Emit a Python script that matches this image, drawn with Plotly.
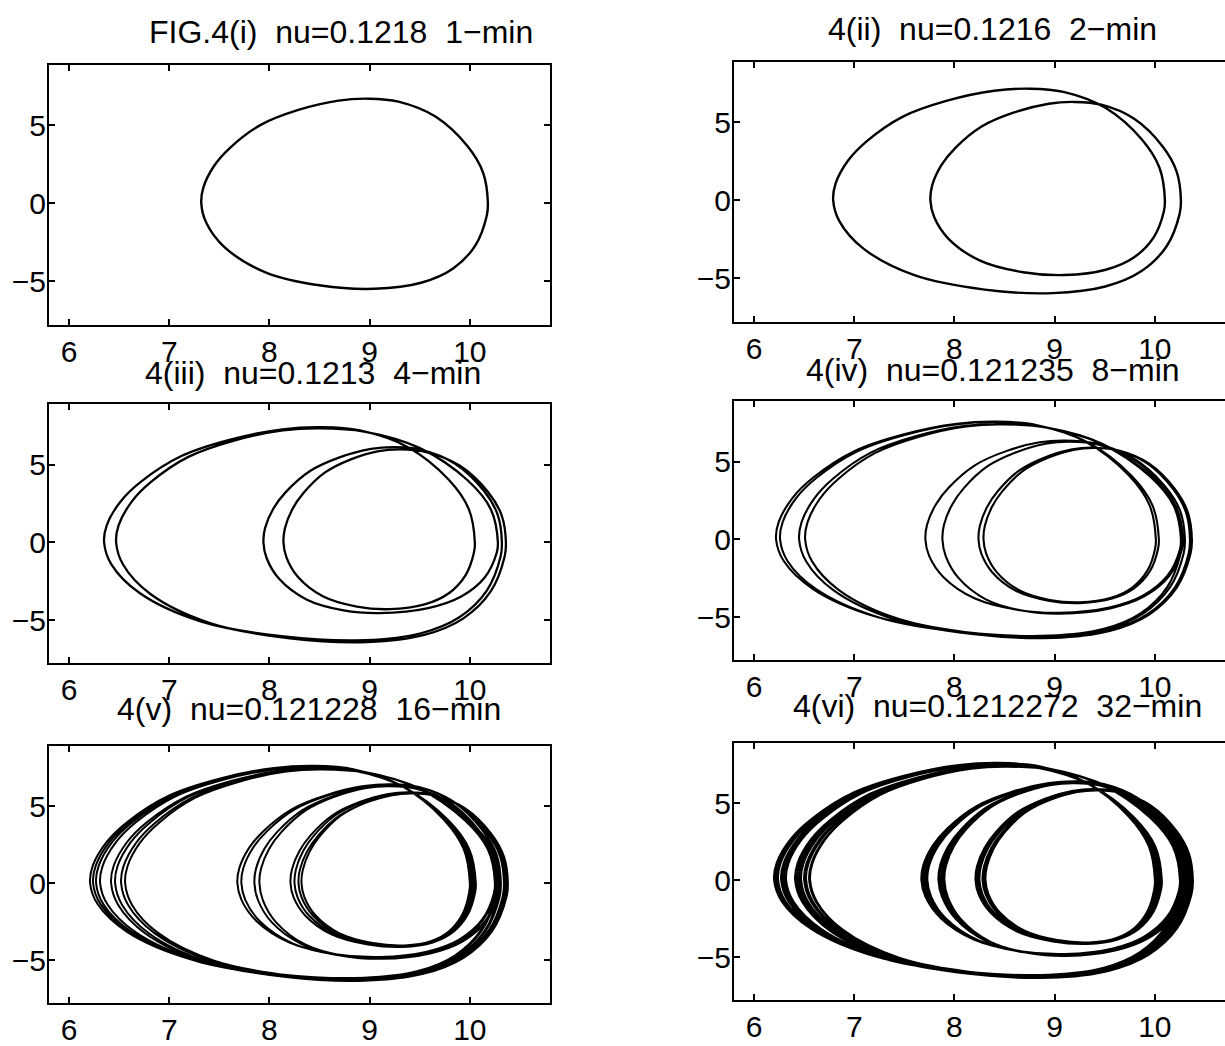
import plotly.graph_objects as go

# ---------------- data ----------------
# Each orbit is a chain of windings; every winding is described by the
# x where it crosses y=0 on the left, its top point, the x where it crosses
# y=0 on the right, and its bottom point.  The next winding starts at the
# next left crossing (the last one returns to the first).

i_left  = [7.32]
i_top_x = [8.99]
i_top_y = [6.72]
i_right = [10.18]
i_bot_x = [9.05]
i_bot_y = [-5.49]

ii_left  = [6.79, 7.76]
ii_top_x = [8.75, 9.20]
ii_top_y = [7.17, 6.32]
ii_right = [10.10, 10.26]
ii_bot_x = [9.10, 8.98]
ii_bot_y = [-4.80, -5.96]

iii_left  = [6.35, 8.14, 6.47, 7.94]
iii_top_x = [8.52, 9.30, 8.50, 9.25]
iii_top_y = [7.43, 6.00, 7.36, 6.15]
iii_right = [10.05, 10.36, 10.28, 10.32]
iii_bot_x = [9.20, 8.98, 9.10, 8.95]
iii_bot_y = [-4.30, -6.42, -4.55, -6.30]

iv_left  = [6.22, 8.29, 6.45, 7.71, 6.26, 8.24, 6.51, 7.88]
iv_top_x = [8.42, 9.40, 8.45, 9.10, 8.42, 9.38, 8.47, 9.15]
iv_top_y = [7.60, 5.90, 7.45, 6.38, 7.57, 5.92, 7.42, 6.30]
iv_right = [10.01, 10.37, 10.26, 10.30, 10.04, 10.35, 10.28, 10.27]
iv_bot_x = [9.25, 8.98, 9.05, 8.95, 9.25, 8.98, 9.05, 8.95]
iv_bot_y = [-4.05, -6.35, -4.72, -6.25, -4.10, -6.30, -4.78, -6.20]

v_left  = [6.21, 8.32, 6.42, 7.68, 6.27, 8.25, 6.52, 7.85,
           6.24, 8.29, 6.46, 7.72, 6.31, 8.21, 6.56, 7.90]
v_top_x = [8.45, 9.42, 8.50, 9.22, 8.44, 9.40, 8.51, 9.20,
           8.45, 9.43, 8.50, 9.23, 8.43, 9.40, 8.52, 9.20]
v_top_y = [7.62, 5.85, 7.45, 6.42, 7.55, 5.88, 7.40, 6.33,
           7.60, 5.82, 7.44, 6.40, 7.52, 5.90, 7.38, 6.30]
v_right = [10.00, 10.38, 10.25, 10.31, 10.04, 10.35, 10.29, 10.27,
           10.02, 10.37, 10.26, 10.30, 10.06, 10.34, 10.30, 10.26]
v_bot_x = [9.35, 8.95, 9.10, 8.95, 9.34, 8.96, 9.11, 8.94,
           9.35, 8.95, 9.10, 8.95, 9.33, 8.96, 9.12, 8.94]
v_bot_y = [-4.05, -6.35, -4.80, -6.25, -4.12, -6.28, -4.90, -6.18,
           -4.08, -6.32, -4.85, -6.22, -4.15, -6.25, -4.92, -6.15]

vi_left  = [6.20, 8.31, 6.41, 7.67, 6.27, 8.24, 6.52, 7.86,
            6.23, 8.29, 6.45, 7.71, 6.30, 8.22, 6.56, 7.90,
            6.21, 8.30, 6.43, 7.69, 6.28, 8.25, 6.50, 7.84,
            6.24, 8.28, 6.47, 7.73, 6.32, 8.21, 6.55, 7.88]
vi_top_x = [8.45, 9.42, 8.50, 9.22, 8.44, 9.40, 8.51, 9.20,
            8.45, 9.43, 8.50, 9.23, 8.43, 9.40, 8.52, 9.20,
            8.46, 9.42, 8.49, 9.22, 8.44, 9.41, 8.51, 9.21,
            8.45, 9.42, 8.50, 9.22, 8.43, 9.40, 8.52, 9.20]
vi_top_y = [7.62, 5.85, 7.46, 6.42, 7.55, 5.90, 7.40, 6.33,
            7.60, 5.83, 7.44, 6.40, 7.52, 5.92, 7.37, 6.30,
            7.61, 5.86, 7.45, 6.41, 7.54, 5.89, 7.41, 6.34,
            7.58, 5.84, 7.43, 6.38, 7.50, 5.91, 7.38, 6.31]
vi_right = [10.00, 10.38, 10.25, 10.31, 10.04, 10.35, 10.29, 10.27,
            10.02, 10.37, 10.26, 10.30, 10.06, 10.34, 10.30, 10.26,
            10.01, 10.38, 10.25, 10.32, 10.05, 10.36, 10.28, 10.28,
            10.03, 10.37, 10.27, 10.29, 10.07, 10.33, 10.31, 10.25]
vi_bot_x = [9.35, 8.95, 9.10, 8.95, 9.34, 8.96, 9.11, 8.94,
            9.35, 8.95, 9.10, 8.95, 9.33, 8.96, 9.12, 8.94,
            9.35, 8.95, 9.10, 8.95, 9.34, 8.96, 9.11, 8.94,
            9.35, 8.95, 9.10, 8.95, 9.33, 8.96, 9.12, 8.94]
vi_bot_y = [-4.05, -6.35, -4.80, -6.25, -4.12, -6.28, -4.90, -6.18,
            -4.08, -6.32, -4.85, -6.22, -4.15, -6.25, -4.93, -6.15,
            -4.06, -6.34, -4.82, -6.24, -4.11, -6.29, -4.88, -6.19,
            -4.09, -6.31, -4.84, -6.21, -4.14, -6.26, -4.91, -6.16]

titles = [
    "FIG.4(i)  nu=0.1218  1\u2212min",
    "4(ii)  nu=0.1216  2\u2212min",
    "4(iii)  nu=0.1213  4\u2212min",
    "4(iv)  nu=0.121235  8\u2212min",
    "4(v)  nu=0.121228  16\u2212min",
    "4(vi)  nu=0.1212272  32\u2212min",
]
x_ticks = [6, 7, 8, 9, 10]
y_ticks = [-5, 0, 5]

orbits = [
    (i_left, i_top_x, i_top_y, i_right, i_bot_x, i_bot_y),
    (ii_left, ii_top_x, ii_top_y, ii_right, ii_bot_x, ii_bot_y),
    (iii_left, iii_top_x, iii_top_y, iii_right, iii_bot_x, iii_bot_y),
    (iv_left, iv_top_x, iv_top_y, iv_right, iv_bot_x, iv_bot_y),
    (v_left, v_top_x, v_top_y, v_right, v_bot_x, v_bot_y),
    (vi_left, vi_top_x, vi_top_y, vi_right, vi_bot_x, vi_bot_y),
]

# egg outline, as fractions between the key points
UPPER_LEFT = [(0.012, 0.149), (0.075, 0.354), (0.17, 0.528),
              (0.355, 0.75), (0.58, 0.893), (0.82, 0.982)]
UPPER_RIGHT = [(0.25, 0.972), (0.56, 0.829), (0.83, 0.545), (0.96, 0.292)]
LOWER_RIGHT = [(0.99, 0.146), (0.89, 0.492), (0.69, 0.765), (0.41, 0.929)]
LOWER_LEFT = [(0.69, 0.962), (0.37, 0.807), (0.135, 0.515), (0.028, 0.224)]


def orbit_path(left, tx_, ty_, right, bx_, by_):
    xs, ys = [], []
    n = len(left)
    for k in range(n):
        L, tx, ty, R, bx, by = left[k], tx_[k], ty_[k], right[k], bx_[k], by_[k]
        Ln = left[(k + 1) % n]
        pts = [(L, 0.0)]
        pts += [(L + u * (tx - L), v * ty) for u, v in UPPER_LEFT]
        pts.append((tx, ty))
        pts += [(tx + u * (R - tx), v * ty) for u, v in UPPER_RIGHT]
        pts.append((R, 0.0))
        pts += [(bx + u * (R - bx), v * by) for u, v in LOWER_RIGHT]
        pts.append((bx, by))
        pts += [(Ln + u * (bx - Ln), v * by) for u, v in LOWER_LEFT]
        for px, py in pts:
            xs.append(px)
            ys.append(py)
    xs.append(left[0])
    ys.append(0.0)
    return xs, ys


W, H = 1225, 1046
# axes boxes in pixels: (left, right, top, bottom)
boxes = [
    (49, 550, 65, 326), (734, 1225, 62, 323),
    (49, 550, 406, 666), (734, 1225, 403, 663),
    (49, 550, 749, 1007), (734, 1225, 746, 1004),
]
x_ranges = [[5.8, 10.8], [5.8, 10.70]] * 3
y_range = [-7.8, 8.9]
title_pos = [(341, 32), (992, 29), (313, 374), (993, 371), (309, 712), (997, 709)]
line_w = [2.4, 2.4, 2.3, 2.1, 2.0, 2.0]

FONT = "Liberation Sans, Arial, Helvetica, sans-serif"
FS_TICK = 30
FS_TITLE = 32

fig = go.Figure()
layout = dict(
    width=W, height=H,
    margin=dict(l=0, r=0, t=0, b=0),
    paper_bgcolor="white", plot_bgcolor="white",
    showlegend=False,
    font=dict(family=FONT, size=FS_TICK, color="black"),
    annotations=[],
)

for k in range(6):
    xs, ys = orbit_path(*orbits[k])
    sfx = "" if k == 0 else str(k + 1)
    fig.add_trace(go.Scatter(
        x=xs, y=ys, mode="lines",
        line=dict(color="black", width=line_w[k], shape="spline", smoothing=1.0),
        xaxis="x" + sfx, yaxis="y" + sfx, hoverinfo="skip",
    ))
    l, r, t, b = boxes[k]
    right_col = (k % 2 == 1)
    layout["xaxis" + sfx] = dict(
        domain=[l / W, r / W], range=x_ranges[k], anchor="y" + sfx,
        tickvals=x_ticks, ticktext=[str(v) for v in x_ticks],
        ticks="inside", ticklen=6, tickwidth=1.5, tickcolor="black",
        showline=True, linecolor="black", linewidth=2, mirror="ticks",
        showgrid=False, zeroline=False, fixedrange=True,
        tickfont=dict(family=FONT, size=FS_TICK, color="black"),
        ticklabelstandoff=-1,
    )
    layout["yaxis" + sfx] = dict(
        domain=[1 - b / H, 1 - t / H], range=y_range, anchor="x" + sfx,
        tickvals=y_ticks, ticktext=["\u22125", "0", "5"],
        ticks="inside", ticklen=6, tickwidth=1.5, tickcolor="black",
        showline=True, linecolor="black", linewidth=2,
        mirror=False if right_col else "ticks",
        showgrid=False, zeroline=False, fixedrange=True,
        tickfont=dict(family=FONT, size=FS_TICK, color="black"),
        ticklabelstandoff=-5,
    )
    cx, cy = title_pos[k]
    layout["annotations"].append(dict(
        text=titles[k].replace("  ", "\u00a0\u00a0"),
        x=cx / W, y=1 - cy / H, xref="paper", yref="paper",
        xanchor="center", yanchor="middle", showarrow=False,
        font=dict(family=FONT, size=FS_TITLE, color="black"),
    ))

fig.update_layout(**layout)
fig.write_html("out.html", config={"displayModeBar": False})

# remove the default page margin so the figure sits at the window's corner
with open("out.html", "r", encoding="utf-8") as f:
    html = f.read()
html = html.replace("<body>", '<body style="margin:0;padding:0;overflow:hidden;">', 1)
with open("out.html", "w", encoding="utf-8") as f:
    f.write(html)
